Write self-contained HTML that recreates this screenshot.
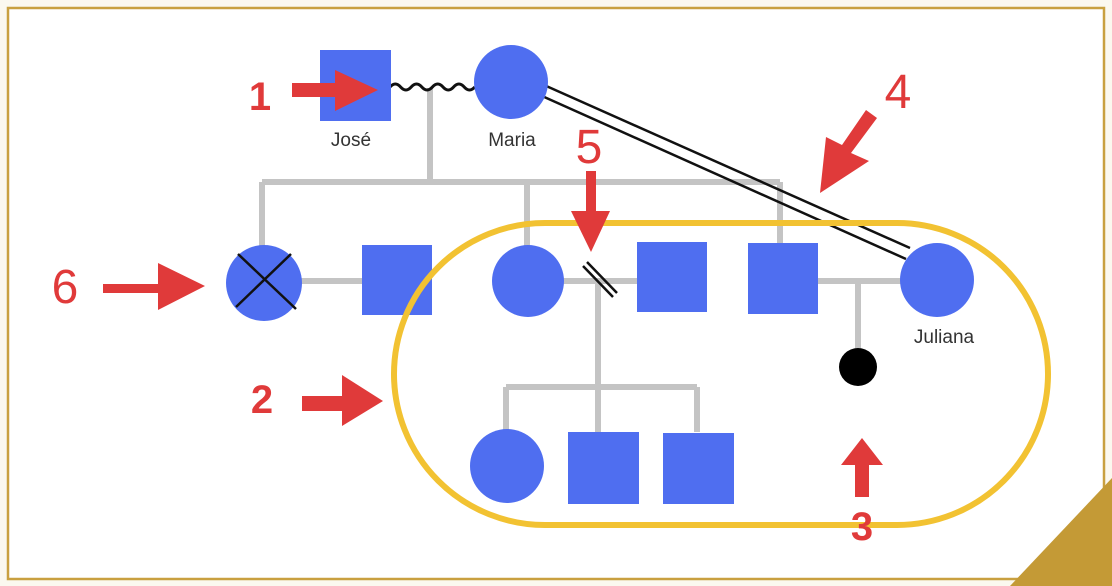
<!DOCTYPE html>
<html><head><meta charset="utf-8"><style>
html,body{margin:0;padding:0;background:#fbf8f0;}
svg{display:block;}
text{font-family:"Liberation Sans",sans-serif;}
</style></head><body>
<svg width="1112" height="586" viewBox="0 0 1112 586" xmlns="http://www.w3.org/2000/svg">
<rect x="0" y="0" width="1112" height="586" fill="#fbf8ef"/>
<rect x="8" y="8" width="1096" height="571" fill="#ffffff" stroke="#c9a040" stroke-width="2.5"/>
<polygon points="1010,586 1112,478 1112,586" fill="#c49a36"/>
<!-- gray lines -->
<g stroke="#c4c4c4" stroke-width="6" fill="none">
<line x1="430" y1="88" x2="430" y2="182"/>
<line x1="262" y1="182" x2="780" y2="182"/>
<line x1="262" y1="182" x2="262" y2="246"/>
<line x1="527" y1="182" x2="527" y2="246"/>
<line x1="780" y1="182" x2="780" y2="246"/>
<line x1="298" y1="281" x2="364" y2="281"/>
<line x1="562" y1="281" x2="638" y2="281"/>
<line x1="818" y1="281" x2="902" y2="281"/>
<line x1="598" y1="281" x2="598" y2="432"/>
<line x1="506" y1="387" x2="697" y2="387"/>
<line x1="506" y1="387" x2="506" y2="432"/>
<line x1="697" y1="387" x2="697" y2="432"/>
<line x1="858" y1="281" x2="858" y2="350"/>
</g>
<!-- wavy -->
<path d="M390,87 q5.3,-6 10.6,0 t10.6,0 t10.6,0 t10.6,0 t10.6,0 t10.6,0 t10.6,0 t10.6,0" stroke="#111" stroke-width="3" fill="none"/>
<!-- double line -->
<line x1="544" y1="85" x2="910" y2="248" stroke="#111" stroke-width="2.5"/>
<line x1="542" y1="96" x2="906" y2="259" stroke="#111" stroke-width="2.5"/>
<!-- nodes -->
<g fill="#4f6ef0">
<rect x="320" y="50" width="71" height="71"/>
<circle cx="511" cy="82" r="37"/>
<circle cx="264" cy="283" r="38"/>
<rect x="362" y="245" width="70" height="70"/>
<circle cx="528" cy="281" r="36"/>
<rect x="637" y="242" width="70" height="70"/>
<rect x="748" y="243" width="70" height="71"/>
<circle cx="937" cy="280" r="37"/>
<circle cx="507" cy="466" r="37"/>
<rect x="568" y="432" width="71" height="72"/>
<rect x="663" y="433" width="71" height="71"/>
</g>
<line x1="238" y1="254" x2="296" y2="309" stroke="#111" stroke-width="2.5"/>
<line x1="291" y1="254" x2="236" y2="307" stroke="#111" stroke-width="2.5"/>
<circle cx="858" cy="367" r="19" fill="#000"/>
<!-- divorce slashes -->
<line x1="583" y1="266" x2="613" y2="297" stroke="#111" stroke-width="2.5"/>
<line x1="587" y1="262" x2="617" y2="293" stroke="#111" stroke-width="2.5"/>
<!-- yellow outline -->
<rect x="394" y="223" width="654" height="302" rx="151" ry="151" fill="none" stroke="#f2c232" stroke-width="6"/>
<!-- labels -->
<g fill="#333" font-size="19" text-anchor="middle">
<text x="351" y="146">José</text>
<text x="512" y="146">Maria</text>
<text x="944" y="343">Juliana</text>
</g>
<!-- red arrows -->
<g fill="#e03a3a">
<text x="260" y="110" font-size="40" font-weight="bold" text-anchor="middle">1</text>
<polygon points="292,83 335,83 335,70 378,90 335,111 335,97 292,97"/>
<text x="262" y="413" font-size="40" font-weight="bold" text-anchor="middle">2</text>
<polygon points="302,396 342,396 342,375 383,401 342,426 342,411 302,411"/>
<text x="862" y="540" font-size="40" font-weight="bold" text-anchor="middle">3</text>
<polygon points="855,497 855,465 841,465 862,438 883,465 869,465 869,497"/>
<text x="898" y="108" font-size="48" text-anchor="middle">4</text>
<polygon points="866,110 877,118 851,153 869,161 820,193 826,137 842,145"/>
<text x="589" y="163" font-size="48" text-anchor="middle">5</text>
<polygon points="586,171 596,171 596,211 610,211 591,252 571,211 586,211"/>
<text x="65" y="303" font-size="48" text-anchor="middle">6</text>
<polygon points="103,284 158,284 158,263 205,286 158,310 158,293 103,293"/>
</g>
</svg>
</body></html>
